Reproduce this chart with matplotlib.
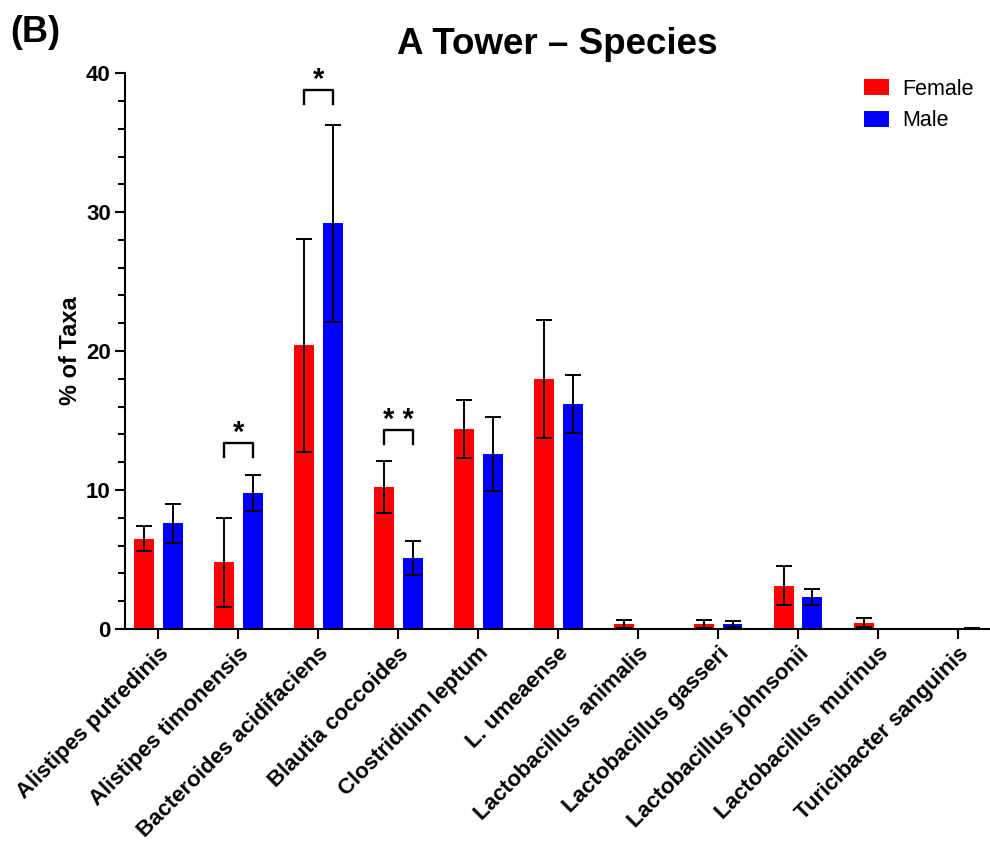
import numpy as np
import matplotlib
matplotlib.use("Agg")
import matplotlib.pyplot as plt

plt.rcParams['font.family'] = ['Liberation Sans', 'DejaVu Sans']

species = ['Alistipes putredinis', 'Alistipes timonensis', 'Bacteroides acidifaciens',
           'Blautia coccoides', 'Clostridium leptum', 'L. umeaense',
           'Lactobacillus animalis', 'Lactobacillus gasseri', 'Lactobacillus johnsonii',
           'Lactobacillus murinus', 'Turicibacter sanguinis']

female_mean = [6.5, 4.8, 20.4, 10.2, 14.4, 18.0, 0.35, 0.35, 3.1, 0.45, 0.0]
female_sd = [0.9, 3.2, 7.7, 1.85, 2.1, 4.25, 0.3, 0.3, 1.4, 0.35, 0.0]
male_mean = [7.6, 9.8, 29.2, 5.1, 12.6, 16.2, 0.0, 0.35, 2.3, 0.0, 0.05]
male_sd = [1.4, 1.3, 7.1, 1.2, 2.65, 2.1, 0.0, 0.25, 0.6, 0.0, 0.0]

# (category index, bracket height, label)
significance = [(1, 13.4, '*'), (2, 38.8, '*'), (3, 14.3, '* *')]

fig = plt.figure(figsize=(9.9, 8.51), dpi=100)
ax = fig.add_axes([0.126, 0.261, 0.874, 0.653])

x = np.arange(len(species))
off = 0.18
w = 0.25
err_kw = dict(ecolor='black', elinewidth=1.4, capsize=6, capthick=1.4)
ax.bar(x - off, female_mean, w, yerr=female_sd, color='#ff0000', label='Female',
       error_kw=err_kw, zorder=2)
ax.bar(x + off, male_mean, w, yerr=male_sd, color='#0000ff', label='Male',
       error_kw=err_kw, zorder=2)

for i, h, lab in significance:
    ax.plot([i - off, i - off, i + off, i + off], [h - 1.0, h, h, h - 1.0],
            color='black', lw=1.7, clip_on=False)
    ax.text(i, h - 0.3, lab, ha='center', va='bottom', fontsize=21,
            fontweight='bold')

ax.set_xlim(-0.42, 10.4)
ax.set_ylim(0, 40)
ax.set_yticks([0, 10, 20, 30, 40])
ax.set_yticks(np.arange(0, 41, 2), minor=True)
ax.set_xticks(x)
ax.set_xticklabels(species, rotation=45, ha='right', rotation_mode='anchor',
                   fontsize=16, fontweight='bold')
for t in ax.get_yticklabels():
    t.set_fontsize(16)
    t.set_fontweight('bold')

ax.spines['top'].set_visible(False)
ax.spines['right'].set_visible(False)
ax.spines['left'].set_linewidth(1.5)
ax.spines['bottom'].set_linewidth(1.5)
ax.tick_params(axis='both', which='major', length=7, width=1.5, direction='out', pad=3)
ax.tick_params(axis='y', which='minor', length=5, width=1.5)
ax.tick_params(axis='x', which='minor', length=0)

ax.set_ylabel('% of Taxa', fontsize=17, fontweight='bold', labelpad=3)
ax.set_title('A Tower \u2013 Species', fontsize=26.5, fontweight='bold', pad=14)

ax.legend(loc='upper right', bbox_to_anchor=(1.004, 1.025), frameon=False,
          fontsize=15.5, handlelength=1.15, handleheight=0.75, handletextpad=0.65,
          labelspacing=0.5)

fig.text(0.01, 0.982, '(B)', fontsize=26, fontweight='bold', va='top', ha='left')

fig.savefig('out.png', dpi=100)
